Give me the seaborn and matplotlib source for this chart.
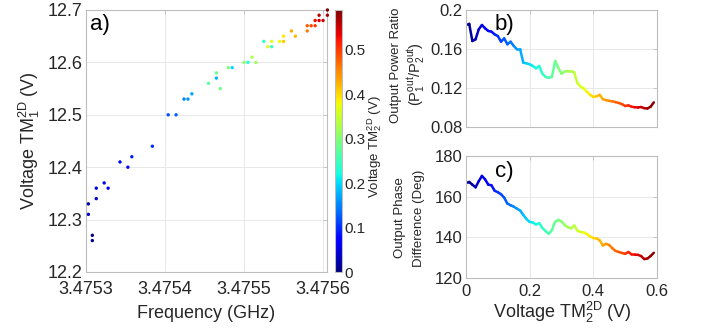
import numpy as np
import matplotlib
matplotlib.use("Agg")
import matplotlib.pyplot as plt
import seaborn as sns
from matplotlib.collections import LineCollection
from matplotlib.colors import Normalize
from matplotlib.cm import ScalarMappable

sns.set_theme(style="white")
plt.rcParams['font.family'] = ['Liberation Sans', 'DejaVu Sans']
plt.rcParams['mathtext.fontset'] = 'custom'
plt.rcParams['mathtext.rm'] = 'Liberation Sans'
plt.rcParams['mathtext.it'] = 'Liberation Sans:italic'

# ---------------- data: panel a (scatter) ----------------
freq_ghz = [3.475303, 3.475303, 3.475308, 3.475308, 3.475313, 3.475313, 3.475323, 3.475328,
            3.475343, 3.475353, 3.475358, 3.475384, 3.475404, 3.475414, 3.475424, 3.475429,
            3.475434, 3.475455, 3.475465, 3.475465, 3.475470, 3.475480, 3.475485, 3.475500,
            3.475505, 3.475510, 3.475515, 3.475525, 3.475530, 3.475535, 3.475535, 3.475545,
            3.475550, 3.475550, 3.475560, 3.475565, 3.475580, 3.475585, 3.475590, 3.475580,
            3.475590, 3.475595, 3.475600, 3.475595, 3.4756055, 3.4756055]
tm1_volt = [12.33, 12.31, 12.27, 12.26, 12.36, 12.34, 12.37, 12.36,
            12.41, 12.40, 12.42, 12.44, 12.50, 12.50, 12.53, 12.53,
            12.54, 12.56, 12.58, 12.57, 12.55, 12.59, 12.59, 12.60,
            12.60, 12.61, 12.60, 12.64, 12.63, 12.64, 12.63, 12.64,
            12.64, 12.65, 12.66, 12.65, 12.67, 12.67, 12.67, 12.66,
            12.68, 12.68, 12.68, 12.69, 12.69, 12.70]
tm2_volt = [0.02, 0.03, 0.00, 0.01, 0.05, 0.04, 0.06, 0.06,
            0.07, 0.08, 0.09, 0.10, 0.12, 0.13, 0.15, 0.16,
            0.17, 0.27, 0.28, 0.18, 0.29, 0.30, 0.20, 0.31,
            0.23, 0.33, 0.32, 0.24, 0.36, 0.37, 0.25, 0.38,
            0.41, 0.39, 0.43, 0.42, 0.48, 0.49, 0.50, 0.46,
            0.53, 0.54, 0.55, 0.56, 0.57, 0.59]

# ---------------- data: panels b, c (lines) ----------------
sweep_v = [0.00, 0.01, 0.02, 0.03, 0.04, 0.05, 0.06, 0.07, 0.08, 0.09,
           0.10, 0.11, 0.12, 0.13, 0.14, 0.15, 0.16, 0.17, 0.18, 0.19,
           0.20, 0.21, 0.22, 0.23, 0.24, 0.25, 0.26, 0.27, 0.28, 0.29,
           0.30, 0.31, 0.32, 0.33, 0.34, 0.35, 0.36, 0.37, 0.38, 0.39,
           0.40, 0.41, 0.42, 0.43, 0.44, 0.45, 0.46, 0.47, 0.48, 0.49,
           0.50, 0.51, 0.52, 0.53, 0.54, 0.55, 0.56, 0.57, 0.58, 0.59]
power_ratio = [0.1860, 0.1860, 0.1682, 0.1699, 0.1802, 0.1846, 0.1812, 0.1785, 0.1778, 0.1750,
               0.1733, 0.1675, 0.1709, 0.1648, 0.1675, 0.1631, 0.1597, 0.1597, 0.1460, 0.1453,
               0.1443, 0.1426, 0.1402, 0.1426, 0.1347, 0.1313, 0.1306, 0.1313, 0.1477, 0.1408,
               0.1347, 0.1368, 0.1375, 0.1375, 0.1360, 0.1250, 0.1215, 0.1195, 0.1160, 0.1130,
               0.1108, 0.1115, 0.1130, 0.1085, 0.1075, 0.1068, 0.1063, 0.1055, 0.1046, 0.1035,
               0.1015, 0.1022, 0.1008, 0.1003, 0.1000, 0.1005, 0.0993, 0.0990, 0.1008, 0.1053]
phase_diff = [167.3, 167.3, 165.9, 164.6, 167.6, 170.2, 168.5, 165.9, 165.6, 162.9,
              162.2, 161.2, 159.5, 156.6, 155.8, 155.1, 154.1, 153.2, 151.0, 149.0,
              147.6, 147.3, 146.3, 147.0, 144.6, 143.1, 141.7, 143.6, 147.6, 148.6,
              147.8, 146.0, 145.0, 144.4, 145.8, 143.3, 142.6, 142.4, 141.6, 140.4,
              139.6, 139.5, 138.5, 136.0, 136.8, 136.2, 134.6, 133.3, 132.8, 132.3,
              131.9, 132.8, 131.6, 131.5, 131.4, 130.8, 129.3, 129.6, 130.8, 132.4]

a_xticks = [3.4753, 3.4754, 3.4755, 3.4756]
a_xticklabels = ['3.4753', '3.4754', '3.4755', '3.4756']
a_yticks = [12.2, 12.3, 12.4, 12.5, 12.6, 12.7]
a_yticklabels = ['12.2', '12.3', '12.4', '12.5', '12.6', '12.7']
cb_ticks = [0, 0.1, 0.2, 0.3, 0.4, 0.5]
cb_ticklabels = ['0', '0.1', '0.2', '0.3', '0.4', '0.5']
b_yticks = [0.08, 0.12, 0.16, 0.2]
b_yticklabels = ['0.08', '0.12', '0.16', '0.2']
c_yticks = [120, 140, 160, 180]
c_yticklabels = ['120', '140', '160', '180']
bc_xticks = [0, 0.2, 0.4, 0.6]
bc_xticklabels = ['0', '0.2', '0.4', '0.6']

# ---------------- styling ----------------
W, H = 704, 333
SPINE = '#bdbdbd'
GRID = '#e8e8e8'
TXT = '#262626'
norm = Normalize(0, 0.59)
cmap = plt.get_cmap('jet')

fig = plt.figure(figsize=(W / 100, H / 100), dpi=100)
fig.patch.set_facecolor('white')

def px_axes(l, t, r, b):
    return fig.add_axes([l / W, (H - b) / H, (r - l) / W, (b - t) / H])

ax_a = px_axes(86, 10, 327, 272)
cax = px_axes(335, 10, 342, 272)
ax_b = px_axes(466, 10, 657, 127)
ax_c = px_axes(466, 156, 657, 278)

def style(ax, fs):
    for s in ax.spines.values():
        s.set_color(SPINE)
        s.set_linewidth(0.8)
    ax.tick_params(direction='in', length=3, width=0.6, color=SPINE,
                   top=True, right=True, labelcolor=TXT, labelsize=fs, pad=2.5)
    ax.grid(True, color=GRID, linewidth=0.7)
    ax.set_axisbelow(True)

# ---- panel a ----
sns.scatterplot(x=freq_ghz, y=tm1_volt, hue=tm2_volt, palette=cmap, hue_norm=norm,
                s=6, linewidth=0, marker='o', legend=False, ax=ax_a, clip_on=False, zorder=3)
ax_a.set_xlim(3.4753, 3.475605)
ax_a.set_ylim(12.2, 12.7)
style(ax_a, 13)
ax_a.set_xticks(a_xticks, a_xticklabels)
ax_a.set_yticks(a_yticks, a_yticklabels)
ax_a.tick_params(axis='x', pad=6.5)
ax_a.text(0.017, 0.943, 'a)', transform=ax_a.transAxes, fontsize=16, ha='left', va='center', color='black')

sm = ScalarMappable(norm=norm, cmap=cmap)
cb = fig.colorbar(sm, cax=cax)
cb.set_ticks(cb_ticks, labels=cb_ticklabels)
cb.outline.set_edgecolor(SPINE)
cb.outline.set_linewidth(0.8)
cax.tick_params(direction='in', length=2, width=0.6, color=SPINE, labelcolor=TXT, labelsize=11, pad=2)

# ---- panels b and c ----
def color_line(ax, xs, ys):
    pts = np.column_stack([xs, ys]).reshape(-1, 1, 2)
    segs = np.concatenate([pts[:-1], pts[1:]], axis=1)
    lc = LineCollection(segs, cmap=cmap, norm=norm, linewidth=1.8, capstyle='round', joinstyle='round')
    lc.set_array((np.asarray(xs[:-1]) + np.asarray(xs[1:])) / 2)
    ax.add_collection(lc)

color_line(ax_b, sweep_v, power_ratio)
ax_b.set_xlim(0, 0.6)
ax_b.set_ylim(0.08, 0.2)
style(ax_b, 12)
ax_b.set_xticks(bc_xticks, [])
ax_b.set_yticks(b_yticks, b_yticklabels)
ax_b.text(0.152, 0.88, 'b)', transform=ax_b.transAxes, fontsize=16, ha='left', va='center', color='black')

color_line(ax_c, sweep_v, phase_diff)
ax_c.set_xlim(0, 0.6)
ax_c.set_ylim(120, 180)
style(ax_c, 12)
ax_c.set_xticks(bc_xticks, bc_xticklabels)
ax_c.set_yticks(c_yticks, c_yticklabels)
ax_c.tick_params(axis='x', pad=4)
ax_c.text(0.152, 0.877, 'c)', transform=ax_c.transAxes, fontsize=16, ha='left', va='center', color='black')

# ---------------- labels ----------------
def ftext(x, y, s, **kw):
    fig.text(x / W, (H - y) / H, s, color=TXT, **kw)

sub1 = r'$\mathregular{_1^{2D}}$'
sub2 = r'$\mathregular{_2^{2D}}$'
ftext(206, 318, 'Frequency (GHz)', fontsize=13, ha='center', va='baseline')
ftext(29, 141, 'Voltage TM' + sub1 + ' (V)', fontsize=13, ha='center', va='center', rotation=90)
ftext(375, 147, 'Voltage TM' + sub2 + ' (V)', fontsize=9.5, ha='center', va='center', rotation=90)
ftext(396.5, 65, 'Output Power Ratio', fontsize=9.5, ha='center', va='center', rotation=90)
ftext(416, 74, r'(P$\mathregular{_1^{out}}$/P$\mathregular{_2^{out}}$)', fontsize=10.5,
      ha='center', va='center', rotation=90)
ftext(400, 218, 'Output Phase', fontsize=9.5, ha='center', va='center', rotation=90)
ftext(419, 218, 'Difference (Deg)', fontsize=9.5, ha='center', va='center', rotation=90)
ftext(562, 318, 'Voltage TM' + sub2 + ' (V)', fontsize=13, ha='center', va='baseline')

fig.savefig('out.png', dpi=100)
